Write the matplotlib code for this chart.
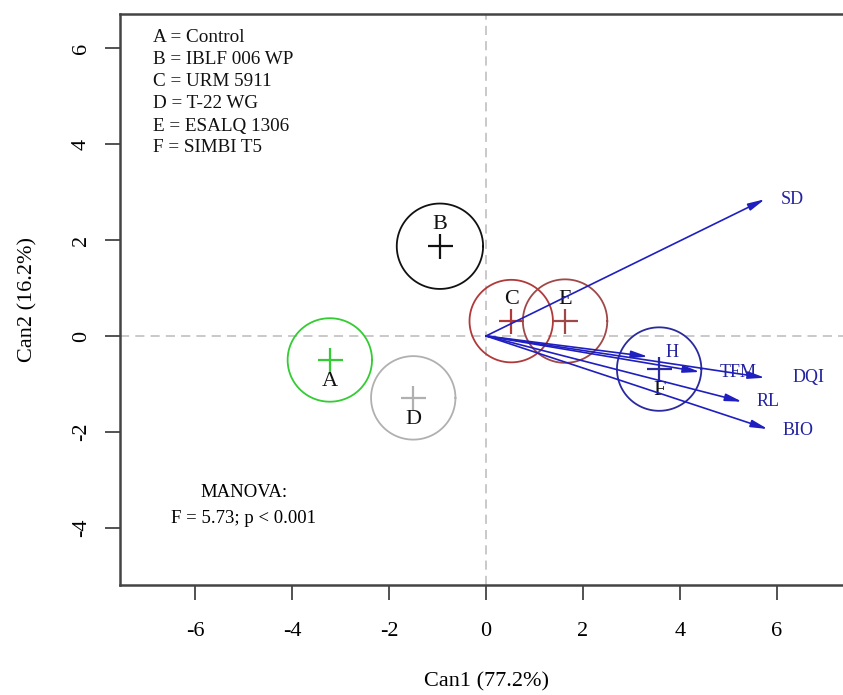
import numpy as np
import matplotlib
matplotlib.use("Agg")
import matplotlib.pyplot as plt

plt.rcParams["font.family"] = ["Liberation Serif", "DejaVu Serif"]

# ─────────────────────────────────────────────
# Donnees
# ─────────────────────────────────────────────
groups = ["A", "B", "C", "D", "E", "F"]
group_x = [-3.22, -0.95, 0.52, -1.50, 1.63, 3.57]
group_y = [-0.50, 1.87, 0.31, -1.29, 0.31, -0.69]
group_radius = [0.87, 0.89, 0.86, 0.87, 0.87, 0.87]
group_colors = ["#33cc33", "#111111", "#b03a3a", "#b0b0b0", "#a04848", "#2a2a9e"]
# position du label par rapport au centre (decalage en y)
label_dy = [-0.45, 0.45, 0.45, -0.45, 0.45, -0.45]

variables = ["SD", "H", "TFM", "DQI", "RL", "BIO"]
var_x = [5.75, 3.34, 4.41, 5.75, 5.28, 5.81]
var_y = [2.85, -0.43, -0.75, -0.87, -1.37, -1.94]
var_label_x = [6.32, 3.84, 5.20, 6.64, 5.81, 6.43]
var_label_y = [2.85, -0.35, -0.77, -0.87, -1.37, -1.97]

legend_lines = ["A = Control", "B = IBLF 006 WP", "C = URM 5911",
                "D = T-22 WG", "E = ESALQ 1306", "F = SIMBI T5"]

xticks = [-6, -4, -2, 0, 2, 4, 6]
yticks = [-4, -2, 0, 2, 4, 6]

# ─────────────────────────────────────────────
# Figure
# ─────────────────────────────────────────────
fig = plt.figure(figsize=(8.43, 6.95), dpi=100)
ax = fig.add_axes([120 / 843, 110 / 695, 732 / 843, 571 / 695])
ax.set_xlim(-7.546, 7.546)
ax.set_ylim(-5.19, 6.71)

ax.axhline(0, color="#bbbbbb", lw=1.1, ls=(0, (6, 4)), zorder=0)
ax.axvline(0, color="#bbbbbb", lw=1.1, ls=(0, (6, 4)), zorder=0)

t = np.linspace(0, 2 * np.pi, 200)
for g, cx, cy, r, c, dy in zip(groups, group_x, group_y, group_radius,
                               group_colors, label_dy):
    ax.plot(cx + r * np.cos(t), cy + r * np.sin(t), color=c, lw=1.3)
    ax.plot(cx, cy, marker="+", ms=18, mew=1.6, color=c, ls="none")
    ax.text(cx, cy + dy, g, ha="center", va="center", fontsize=16,
            color="#111111")

# fleches des variables
for v, vx, vy, lx, ly in zip(variables, var_x, var_y, var_label_x, var_label_y):
    ax.annotate("", xy=(vx, vy), xytext=(0, 0),
                arrowprops=dict(arrowstyle="-|>,head_length=1.0,head_width=0.22",
                                color="#1f1fc0", lw=1.2,
                                shrinkA=0, shrinkB=0))
    ax.text(lx, ly, v, ha="center", va="center", fontsize=13,
            color="#2323a0")

# legende des traitements (positions en pixels depuis le haut)
for i, line in enumerate(legend_lines):
    fig.text(153 / 843, 1 - (38 + i * 22.0) / 695, line, fontsize=13.8,
             va="center", ha="left", color="#111111")

ax.text(-4.99, -3.27, "MANOVA:", ha="center", va="center", fontsize=13.5)
ax.text(-4.99, -3.80, "F = 5.73; p < 0.001", ha="center", va="center",
        fontsize=13.5)

ax.set_xticks(xticks)
ax.set_yticks(yticks)
ax.set_xticklabels([str(v) for v in xticks])
ax.set_yticklabels([str(v) for v in yticks], rotation=90, va="center")
ax.tick_params(axis="both", length=11, width=1.3, color="#444444",
               labelsize=16)
ax.tick_params(axis="x", pad=16)
ax.tick_params(axis="y", pad=10)

for side in ["left", "bottom", "top", "right"]:
    ax.spines[side].set_color("#444444")
    ax.spines[side].set_linewidth(1.8)

ax.set_xlabel("Can1 (77.2%)", fontsize=16, labelpad=22)
ax.set_ylabel("Can2 (16.2%)", fontsize=16, labelpad=25)

fig.savefig("out.png", dpi=100)
